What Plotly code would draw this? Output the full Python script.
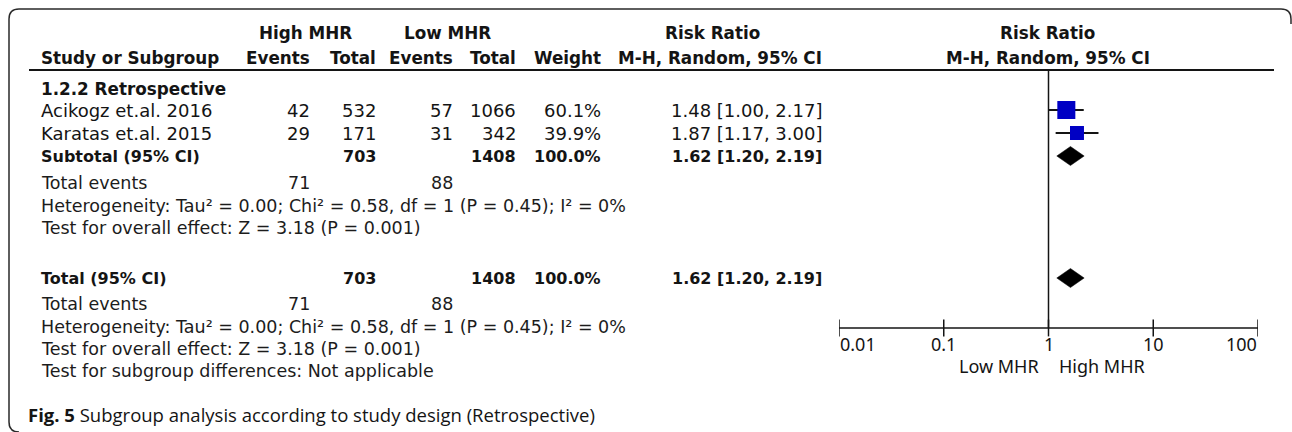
import math
import plotly.graph_objects as go

W, H = 1292, 432

# ---------------- data ----------------
subgroup_title = "1.2.2 Retrospective"
studies = ["Acikogz et.al. 2016", "Karatas et.al. 2015"]
high_events = [42, 29]
high_total = [532, 171]
low_events = [57, 31]
low_total = [1066, 342]
weights = [60.1, 39.9]
rr = [1.48, 1.87]
rr_lo = [1.00, 1.17]
rr_hi = [2.17, 3.00]

pooled_labels = ["Subtotal (95% CI)", "Total (95% CI)"]
pooled_high_total = [703, 703]
pooled_low_total = [1408, 1408]
pooled_weight = [100.0, 100.0]
pooled_rr = [1.62, 1.62]
pooled_lo = [1.20, 1.20]
pooled_hi = [2.19, 2.19]
total_events_high = [71, 71]
total_events_low = [88, 88]
heterogeneity = ["Heterogeneity: Tau² = 0.00; Chi² = 0.58, df = 1 (P = 0.45); I² = 0%",
                 "Heterogeneity: Tau² = 0.00; Chi² = 0.58, df = 1 (P = 0.45); I² = 0%"]
overall_effect = ["Test for overall effect: Z = 3.18 (P = 0.001)",
                  "Test for overall effect: Z = 3.18 (P = 0.001)"]
subgroup_diff = "Test for subgroup differences: Not applicable"

axis_ticks = [0.01, 0.1, 1, 10, 100]
axis_tick_labels = ["0.01", "0.1", "1", "10", "100"]
favours_left = "Low MHR"
favours_right = "High MHR"
caption_bold = "Fig. 5"
caption_text = "Subgroup analysis according to study design (Retrospective)"

# ---------------- layout (pixel positions) ----------------
Y_HDR1, Y_HDR2, Y_RULE = 33, 58, 70
Y_SUBGROUP = 89
Y_STUDY = [110, 133]
Y_POOLED = [156, 278]
Y_EVENTS = [183, 304]
Y_HET = [206, 327]
Y_TEST = [228, 349]
Y_SUBDIFF = 371
Y_AXIS = 328
Y_TICKLAB = 344
Y_FAV = 366
Y_CAPTION = 414

X_LEFT = 40
X_HE, X_HT, X_LE, X_LT, X_W, X_CI = 311, 377, 454, 517, 602, 823
X_AX0, X_AX1 = 839, 1258

INK = "#141414"
BLUE = "#0000C4"
F_HDR = dict(family="DejaVu Sans", size=16.8, color=INK)
F_NUMB = dict(family="DejaVu Sans", size=16, color=INK)
F_STUDY = dict(family="DejaVu Sans", size=18, color=INK)
F_STAT = dict(family="DejaVu Sans", size=17.5, color="#1c1c1c")
F_STATB = dict(family="DejaVu Sans", size=16, color=INK)
F_AXIS = dict(family="Noto Sans", size=18, color=INK)
F_CAP = dict(family="Open Sans", size=18.5, color=INK)

fig = go.Figure()
ann = []


def txt(x, y, s, anchor, font, xref="x", xshift=0):
    ann.append(dict(x=x, y=y, xref=xref, yref="y", text=s, showarrow=False,
                    xanchor=anchor, yanchor="middle", font=font, borderpad=0,
                    xshift=xshift))


# headers
txt(305, Y_HDR1, "<b>High MHR</b>", "center", F_HDR)
txt(447, Y_HDR1, "<b>Low MHR</b>", "center", F_HDR)
txt(712, Y_HDR1, "<b>Risk Ratio</b>", "center", F_HDR)
txt(1047, Y_HDR1, "<b>Risk Ratio</b>", "center", F_HDR)
txt(X_LEFT, Y_HDR2, "<b>Study or Subgroup</b>", "left", F_HDR)
txt(X_HE, Y_HDR2, "<b>Events</b>", "right", F_HDR)
txt(X_HT, Y_HDR2, "<b>Total</b>", "right", F_HDR)
txt(X_LE, Y_HDR2, "<b>Events</b>", "right", F_HDR)
txt(X_LT, Y_HDR2, "<b>Total</b>", "right", F_HDR)
txt(X_W, Y_HDR2, "<b>Weight</b>", "right", F_HDR)
txt(X_CI, Y_HDR2, "<b>M-H, Random, 95% CI</b>", "right", F_HDR)
txt(1048, Y_HDR2, "<b>M-H, Random, 95% CI</b>", "center", F_HDR)

txt(X_LEFT, Y_SUBGROUP, "<b>" + subgroup_title + "</b>", "left", F_HDR)

# study rows
for i, name in enumerate(studies):
    y = Y_STUDY[i]
    txt(X_LEFT, y, name, "left", F_STUDY)
    txt(X_HE, y, str(high_events[i]), "right", F_STUDY)
    txt(X_HT, y, str(high_total[i]), "right", F_STUDY)
    txt(X_LE, y, str(low_events[i]), "right", F_STUDY)
    txt(X_LT, y, str(low_total[i]), "right", F_STUDY)
    txt(X_W, y, f"{weights[i]:.1f}%", "right", F_STUDY)
    txt(X_CI, y, f"{rr[i]:.2f} [{rr_lo[i]:.2f}, {rr_hi[i]:.2f}]", "right", F_STUDY)

# pooled rows and statistics
for k in range(2):
    y = Y_POOLED[k]
    txt(X_LEFT, y, "<b>" + pooled_labels[k] + "</b>", "left", F_STATB)
    txt(X_HT, y, f"<b>{pooled_high_total[k]}</b>", "right", F_NUMB)
    txt(X_LT, y, f"<b>{pooled_low_total[k]}</b>", "right", F_NUMB)
    txt(X_W, y, f"<b>{pooled_weight[k]:.1f}%</b>", "right", F_NUMB)
    txt(X_CI, y, f"<b>{pooled_rr[k]:.2f} [{pooled_lo[k]:.2f}, {pooled_hi[k]:.2f}]</b>", "right", F_NUMB)
    txt(X_LEFT, Y_EVENTS[k], "Total events", "left", F_STAT)
    txt(X_HE, Y_EVENTS[k], str(total_events_high[k]), "right", F_STAT)
    txt(X_LE, Y_EVENTS[k], str(total_events_low[k]), "right", F_STAT)
    txt(X_LEFT, Y_HET[k], heterogeneity[k], "left", F_STAT)
    txt(X_LEFT, Y_TEST[k], overall_effect[k], "left", F_STAT)
txt(X_LEFT, Y_SUBDIFF, subgroup_diff, "left", F_STAT)

# caption
txt(27, Y_CAPTION, "<b>" + caption_bold + "</b> " + caption_text, "left", F_CAP)

# axis labels (annotations on a log axis take log10 positions)
for v, lab in zip(axis_ticks, axis_tick_labels):
    anchor = "left" if v == axis_ticks[0] else ("right" if v == axis_ticks[-1] else "center")
    txt(math.log10(v), Y_TICKLAB, lab, anchor, F_AXIS, xref="x2")
txt(math.log10(1), Y_FAV, favours_left, "right", F_AXIS, xref="x2", xshift=-9)
txt(math.log10(1), Y_FAV, favours_right, "left", F_AXIS, xref="x2", xshift=9)

# ---------------- forest plot marks ----------------
ci_x, ci_y = [], []
for i in range(len(studies)):
    ci_x += [rr_lo[i], rr_hi[i], None]
    ci_y += [Y_STUDY[i], Y_STUDY[i], None]
fig.add_trace(go.Scatter(x=ci_x, y=ci_y, xaxis="x2", yaxis="y", mode="lines",
                         line=dict(color=INK, width=2), hoverinfo="skip", showlegend=False))
fig.add_trace(go.Scatter(x=rr, y=Y_STUDY, xaxis="x2", yaxis="y", mode="markers",
                         marker=dict(symbol="square", color=BLUE, opacity=1,
                                     size=[6 + 0.2 * w for w in weights],
                                     line=dict(width=0)),
                         hoverinfo="skip", showlegend=False))
for k in range(2):
    yc = Y_POOLED[k]
    fig.add_trace(go.Scatter(x=[pooled_lo[k], pooled_rr[k], pooled_hi[k], pooled_rr[k], pooled_lo[k]],
                             y=[yc, yc - 9.5, yc, yc + 9.5, yc], xaxis="x2", yaxis="y",
                             mode="lines", fill="toself", fillcolor="black",
                             line=dict(color="black", width=0.5),
                             hoverinfo="skip", showlegend=False))
# tick marks
fig.add_trace(go.Scatter(x=axis_ticks, y=[Y_AXIS] * len(axis_ticks), xaxis="x2", yaxis="y",
                         mode="markers",
                         marker=dict(symbol="line-ns", size=12, opacity=1,
                                     line=dict(color=INK, width=1.5)),
                         hoverinfo="skip", showlegend=False))

shapes = [
    # outer rounded frame
    dict(type="path", xref="x", yref="y",
         path="M 19,432 Q 9,432 9,422 L 9,19 Q 9,9 19,9 L 1281,9 Q 1291,9 1291,19 L 1291,24",
         line=dict(color="#2a2a2a", width=1.5)),
    # header rule
    dict(type="line", xref="x", yref="y", x0=29, x1=1274, y0=Y_RULE, y1=Y_RULE,
         line=dict(color=INK, width=2)),
    # axis line
    dict(type="line", xref="x2", yref="y", x0=axis_ticks[0], x1=axis_ticks[-1], y0=Y_AXIS, y1=Y_AXIS,
         line=dict(color=INK, width=1.5)),
    # line of no effect
    dict(type="line", xref="x2", yref="y", x0=1, x1=1, y0=Y_RULE, y1=Y_AXIS,
         line=dict(color=INK, width=1.5)),
]

fig.update_layout(
    width=W, height=H, autosize=False,
    margin=dict(l=0, r=0, t=0, b=0, pad=0),
    paper_bgcolor="white", plot_bgcolor="white",
    xaxis=dict(range=[0, W], domain=[0, 1], visible=False, fixedrange=True),
    yaxis=dict(range=[H, 0], domain=[0, 1], visible=False, fixedrange=True),
    xaxis2=dict(type="log", range=[-2, 2], domain=[X_AX0 / W, X_AX1 / W], anchor="y",
                visible=False, fixedrange=True),
    annotations=ann, shapes=shapes, showlegend=False,
)

fig.write_html("out.html", config={"displayModeBar": False, "staticPlot": True},
               post_script="document.body.style.margin='0px';document.body.style.overflow='hidden';")
